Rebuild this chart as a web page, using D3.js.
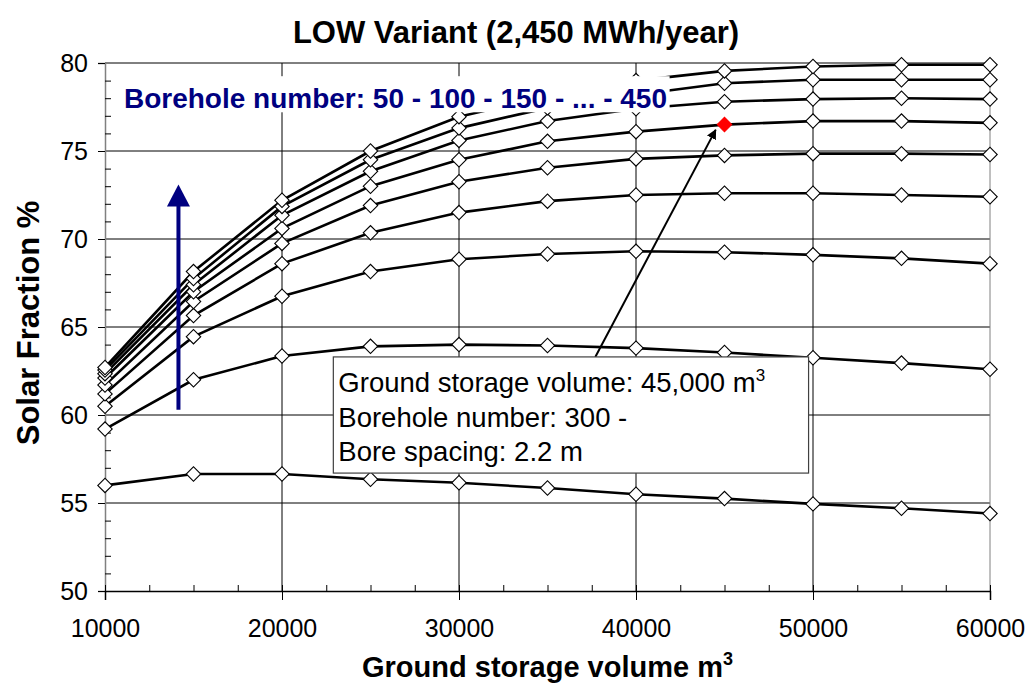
<!DOCTYPE html>
<meta charset="utf-8">
<style>
    body { margin: 0; background: #fff; }
    svg { display: block; font-family: "Liberation Sans", Arial, sans-serif; }
</style>
<svg width="1032" height="684"></svg>
<script src="https://cdn.jsdelivr.net/npm/d3@7/dist/d3.min.js"></script>
<script>
    // ground storage volume (m3) on the x axis
    var volumes = [10000, 15000, 20000, 25000, 30000, 35000, 40000, 45000, 50000, 55000, 60000];
    var boreholes = [50, 100, 150, 200, 250, 300, 350, 400, 450];
    // solar fraction % for each borehole number
    var sf50  = [56.0, 56.65, 56.65, 56.35, 56.15, 55.85, 55.5, 55.25, 54.95, 54.7, 54.4];
    var sf100 = [59.2, 62.0, 63.35, 63.9, 64.0, 63.95, 63.8, 63.55, 63.25, 62.95, 62.6];
    var sf150 = [60.5, 64.45, 66.75, 68.15, 68.85, 69.15, 69.3, 69.25, 69.1, 68.9, 68.6];
    var sf200 = [61.2, 65.65, 68.6, 70.35, 71.5, 72.15, 72.5, 72.6, 72.6, 72.5, 72.4];
    var sf250 = [61.7, 66.45, 69.75, 71.9, 73.25, 74.05, 74.55, 74.75, 74.85, 74.85, 74.8];
    var sf300 = [62.1, 67.0, 70.6, 73.0, 74.5, 75.55, 76.1, 76.5, 76.7, 76.7, 76.6];
    var sf350 = [62.35, 67.4, 71.35, 73.85, 75.6, 76.7, 77.4, 77.8, 77.95, 78.0, 77.95];
    var sf400 = [62.55, 67.75, 71.85, 74.5, 76.3, 77.45, 78.2, 78.85, 79.05, 79.05, 79.05];
    var sf450 = [62.7, 68.15, 72.2, 75.0, 76.95, 78.1, 79.0, 79.55, 79.8, 79.9, 79.9];
    var series = [sf50, sf100, sf150, sf200, sf250, sf300, sf350, sf400, sf450];
    // highlighted design point
    var pickVolume = 45000;
    var pickBorehole = 300;
    // ticks
    var xTicks = [10000, 20000, 30000, 40000, 50000, 60000];
    var yTicks = [50, 55, 60, 65, 70, 75, 80];

    var svgElem = d3.select('svg');
    var margin = { left: 105, top: 63, right: 42, bottom: 93 };
    var width = +svgElem.attr('width') - margin.left - margin.right;
    var height = +svgElem.attr('height') - margin.top - margin.bottom;
    var g = svgElem.append('g')
        .attr('transform', `translate(${margin.left}, ${margin.top})`);

    var x = d3.scaleLinear().domain([10000, 60000]).range([0, width]);
    var y = d3.scaleLinear().domain([50, 80]).range([height, 0]);

    // grid
    g.append('g').selectAll('line')
        .data(yTicks.slice(1))
        .enter().append('line')
        .attr('x1', 0).attr('x2', width)
        .attr('y1', function (d) { return y(d); })
        .attr('y2', function (d) { return y(d); })
        .attr('stroke', '#000').attr('stroke-width', 1);
    g.append('g').selectAll('line')
        .data(xTicks.slice(1))
        .enter().append('line')
        .attr('y1', 0).attr('y2', height)
        .attr('x1', function (d) { return x(d); })
        .attr('x2', function (d) { return x(d); })
        .attr('stroke', function (d) { return d === 60000 ? '#808080' : '#000'; })
        .attr('stroke-width', 1);

    // axes
    var yAxis = g.append('g')
        .call(d3.axisLeft(y).tickValues(yTicks).tickSize(7).tickPadding(10));
    yAxis.select('.domain').attr('stroke', '#808080').attr('stroke-width', 1.5);
    g.append('g')
        .call(d3.axisRight(y).tickValues(d3.range(51, 80).filter(function (v) { return v % 5; }))
            .tickSize(6).tickFormat(''))
        .select('.domain').remove();

    var xAxis = g.append('g')
        .attr('transform', `translate(0, ${height})`)
        .call(d3.axisBottom(x).tickValues(xTicks).tickSize(9).tickPadding(19).tickFormat(d3.format('d')));
    xAxis.select('.domain').attr('stroke-width', 1.5);
    g.append('g')
        .attr('transform', `translate(0, ${height})`)
        .call(d3.axisTop(x).tickValues(d3.range(10000, 60001, 2500)).tickSize(6).tickFormat(''))
        .select('.domain').remove();

    g.selectAll('.tick text')
        .attr('font-size', 25)
        .attr('font-family', '"Liberation Sans", Arial, sans-serif')
        .attr('fill', '#000');

    // lines
    var line = d3.line()
        .x(function (d, i) { return x(volumes[i]); })
        .y(function (d) { return y(d); });
    g.append('g').selectAll('path')
        .data(series)
        .enter().append('path')
        .attr('fill', 'none')
        .attr('stroke', '#000')
        .attr('stroke-width', 2.6)
        .attr('d', line);

    // diamond markers
    var diamond = d3.symbol(d3.symbolSquare, 104);
    series.forEach(function (s, k) {
        g.append('g').selectAll('path')
            .data(s)
            .enter().append('path')
            .attr('d', diamond)
            .attr('transform', function (d, i) {
                return `translate(${x(volumes[i])}, ${y(d)}) rotate(45)`;
            })
            .attr('fill', function (d, i) {
                return volumes[i] === pickVolume && boreholes[k] === pickBorehole ? '#ff0000' : '#fff';
            })
            .attr('stroke', function (d, i) {
                return volumes[i] === pickVolume && boreholes[k] === pickBorehole ? '#ff0000' : '#000';
            })
            .attr('stroke-width', 1.1);
    });

    // borehole label
    var navy = '#000080';
    var label = g.append('g');
    label.append('rect')
        .attr('x', x(10550)).attr('y', y(79.25))
        .attr('width', x(41900) - x(10550)).attr('height', y(77.2) - y(79.25))
        .attr('fill', '#fff');
    label.append('text')
        .attr('x', x(11070)).attr('y', y(77.45))
        .attr('font-size', 28).attr('font-weight', 'bold')
        .attr('fill', navy)
        .text('Borehole number: 50 - 100 - 150 - ... - 450');

    // navy arrow
    var ax = x(14150);
    g.append('line')
        .attr('x1', ax).attr('x2', ax)
        .attr('y1', y(60.3)).attr('y2', y(73.1) + 18)
        .attr('stroke', navy).attr('stroke-width', 4);
    g.append('path')
        .attr('d', `M${ax},${y(73.1)}L${ax + 11.5},${y(73.1) + 22}L${ax - 11.5},${y(73.1) + 22}Z`)
        .attr('fill', navy);

    // annotation box + arrow to the red point
    svgElem.append('defs').append('marker')
        .attr('id', 'head')
        .attr('viewBox', '0 0 10 10')
        .attr('refX', 9).attr('refY', 5)
        .attr('markerWidth', 5).attr('markerHeight', 5)
        .attr('orient', 'auto')
        .append('path').attr('d', 'M0,0L10,5L0,10Z').attr('fill', '#000');

    var boxTop = y(63.3), boxLeft = x(22900);
    g.append('line')
        .attr('x1', x(37700)).attr('y1', boxTop)
        .attr('x2', x(44500)).attr('y2', y(76.2))
        .attr('stroke', '#000').attr('stroke-width', 2)
        .attr('marker-end', 'url(#head)');
    g.append('rect')
        .attr('x', boxLeft).attr('y', boxTop)
        .attr('width', x(49750) - boxLeft).attr('height', y(56.7) - boxTop)
        .attr('fill', '#fff').attr('stroke', '#404040').attr('stroke-width', 1.2);
    var note = g.append('text')
        .attr('font-size', 27.5).attr('fill', '#000');
    note.append('tspan').attr('x', boxLeft + 5).attr('y', boxTop + 35)
        .text('Ground storage volume: 45,000 m');
    note.append('tspan').attr('dy', -11).attr('font-size', 17).text('3');
    note.append('tspan').attr('x', boxLeft + 5).attr('y', boxTop + 70)
        .text('Borehole number: 300 -');
    note.append('tspan').attr('x', boxLeft + 5).attr('y', boxTop + 104)
        .text('Bore spacing: 2.2 m');

    // titles
    svgElem.append('text')
        .attr('x', 516).attr('y', 43)
        .attr('text-anchor', 'middle')
        .attr('font-size', 31).attr('font-weight', 'bold')
        .text('LOW Variant (2,450 MWh/year)');

    var xt = svgElem.append('text')
        .attr('x', margin.left + width / 2).attr('y', 677)
        .attr('text-anchor', 'middle')
        .attr('font-size', 29).attr('font-weight', 'bold');
    xt.append('tspan').text('Ground storage volume m');
    xt.append('tspan').attr('dy', -12).attr('font-size', 18).text('3');

    svgElem.append('text')
        .attr('transform', `translate(39, ${margin.top + height / 2 - 4}) rotate(-90)`)
        .attr('text-anchor', 'middle')
        .attr('font-size', 31).attr('font-weight', 'bold')
        .text('Solar Fraction %');
</script>
